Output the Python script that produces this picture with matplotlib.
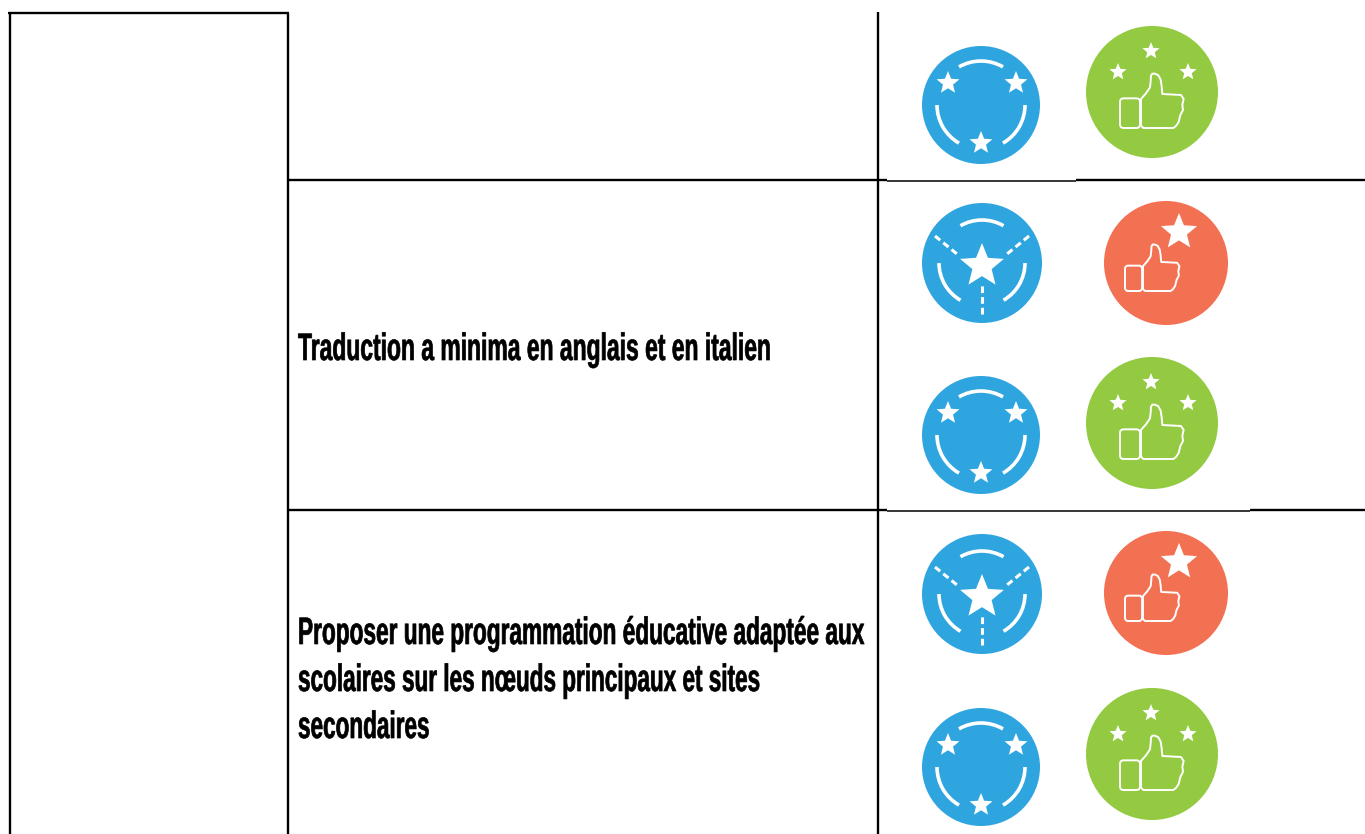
import numpy as np
import matplotlib
matplotlib.use("Agg")
import matplotlib.pyplot as plt
import matplotlib.patheffects as pe
from matplotlib.patches import Circle, Arc, Polygon, FancyBboxPatch
from matplotlib.transforms import Affine2D

row_lines = [
    ["Traduction a minima en anglais et en italien"],
    ["Proposer une programmation éducative adaptée aux",
     "scolaires sur les nœuds principaux et sites",
     "secondaires"],
]
row_baselines = [[360], [644, 691, 738]]
row_squeeze = [[0.599], [0.593, 0.59, 0.59]]
row_rules = [180.3, 510.3]
col_rules = [288, 878]
icons = [
    ("b", 981, 105, 59), ("g", 1152, 92, 66),
    ("a", 982, 263, 60), ("o", 1166, 263, 62), ("b", 981, 435, 59), ("g", 1152, 423, 66),
    ("a", 982, 594, 60), ("o", 1166, 593, 62), ("b", 981, 767, 59), ("g", 1152, 754, 66),
]
BLUE, ORANGE, GREEN = "#2FA5E0", "#F37153", "#93CA42"
THUMB_HAND = [(63, 87), (78, 104), (90, 122), (92, 140), (93, 157), (97, 163), (105, 163), (115, 158),
              (122, 145), (125, 125), (127, 102), (183, 99), (191, 87), (187, 70), (189, 54), (181, 39),
              (176, 18), (168, 6), (160, 0), (70, 0), (63, 7)]

fig = plt.figure(figsize=(13.65, 8.34), dpi=100)
ax = fig.add_axes([0, 0, 1, 1])
ax.set_xlim(0, 1365)
ax.set_ylim(834, 0)
ax.axis("off")


class Condensed(pe.AbstractPathEffect):
    """Draw real text narrower about a fixed x, as the reference's condensed face is not installed."""

    def __init__(self, x0, sx, stroke):
        super().__init__()
        self.x0, self.sx, self.stroke = x0, sx, stroke

    def draw_path(self, renderer, gc, tpath, affine, rgbFace):
        aff = affine + Affine2D().translate(-self.x0, 0).scale(self.sx, 1).translate(self.x0, 0)
        gc0 = renderer.new_gc()
        gc0.copy_properties(gc)
        gc0.set_linewidth(self.stroke)
        gc0.set_foreground("black")
        renderer.draw_path(gc0, tpath, aff, rgbFace)
        gc0.restore()


def star(cx, cy, r):
    ang = np.deg2rad(-90 + 36 * np.arange(10))
    rad = np.where(np.arange(10) % 2 == 0, r, r * 0.44)
    ax.add_patch(Polygon(np.c_[cx + rad * np.cos(ang), cy + rad * np.sin(ang)], fc="white", ec="none", zorder=4))


def arcs(cx, cy, r):
    for t1, t2 in [(240, 300), (0, 60), (120, 180)]:
        ax.add_patch(Arc((cx, cy), 2 * r, 2 * r, theta1=t1, theta2=t2, color="white", lw=2.6, zorder=3))


def dash(x, y):
    ax.plot(x, y, color="white", lw=2.2, ls=(0, (2.2, 1.3)), dash_capstyle="butt", zorder=3)


def thumb(ox, oy, s):
    ax.add_patch(FancyBboxPatch((ox, oy - 89 * s), 60 * s, 89 * s,
                                boxstyle=f"round,pad=0,rounding_size={11 * s}",
                                fc="none", ec="white", lw=1.4, zorder=3))
    p = np.array(THUMB_HAND, float) * s
    ax.add_patch(Polygon(np.c_[ox + p[:, 0], oy - p[:, 1]], closed=True, fc="none", ec="white",
                         lw=1.4, joinstyle="round", zorder=3))


for kind, cx, cy, r in icons:
    col = {"a": BLUE, "b": BLUE, "o": ORANGE, "g": GREEN}[kind]
    ax.add_patch(Circle((cx, cy), r, fc=col, ec="none", zorder=2))
    if kind == "a":
        arcs(cx, cy, 43)
        star(cx, cy + 3, 23)
        dash([cx, cx], [cy + 51, cy + 22])
        dash([cx - 47, cx - 25], [cy - 27, cy - 9])
        dash([cx + 47, cx + 25], [cy - 27, cy - 9])
    elif kind == "b":
        arcs(cx, cy, 44)
        star(cx - 33, cy - 22, 12)
        star(cx + 35, cy - 22, 12)
        star(cx, cy + 38, 12)
    elif kind == "o":
        thumb(cx - 41, cy + 28, 0.855 / 3)
        star(cx + 13, cy - 31, 19)
    else:
        thumb(cx - 32, cy + 36, 1 / 3)
        star(cx - 1, cy - 41, 9)
        star(cx - 34, cy - 20, 9)
        star(cx + 36, cy - 20, 9)

# table rules
THICK, THIN = 1.7, 1.1


def rule(x, y, lw):
    ax.plot(x, y, color="black", lw=lw, solid_capstyle="butt", zorder=1)


rule([8.3, 289], [13, 13], THICK)
rule([9.5, 9.5], [13, 834], THICK)
rule([col_rules[0]] * 2, [13, 834], THICK)
rule([col_rules[1]] * 2, [12, 834], THICK)
rule([288, 887], [row_rules[0]] * 2, THICK)
rule([887, 1076], [row_rules[0] + 0.5] * 2, THIN)
rule([1076, 1365], [row_rules[0]] * 2, THICK)
rule([288, 887], [row_rules[1]] * 2, THICK)
rule([887, 1076], [row_rules[1] + 1] * 2, THIN)
rule([1076, 1250], [row_rules[1] + 0.5] * 2, THIN)
rule([1250, 1365], [row_rules[1]] * 2, THICK)

for lines, ys, squeezes in zip(row_lines, row_baselines, row_squeeze):
    for lab, y, sq in zip(lines, ys, squeezes):
        t = ax.text(298, y, lab, family="Liberation Sans", weight="bold", fontsize=27.5,
                    va="baseline", ha="left", color="black")
        t.set_path_effects([Condensed(298, sq, 0.5)])

fig.savefig("out.png", dpi=100)
